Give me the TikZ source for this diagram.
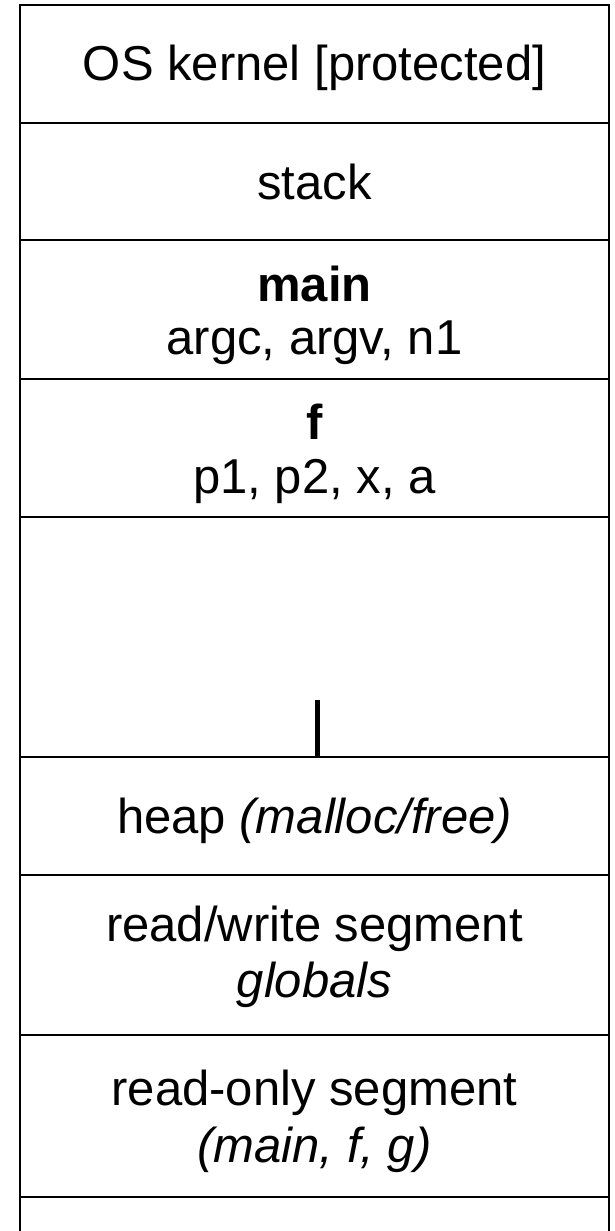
\documentclass[tikz,border=0pt]{standalone}
\usepackage{fontspec}
\setmainfont{Liberation Sans}
\begin{document}
\begin{tikzpicture}[x=1pt,y=-1pt,
  frame/.style={line width=2.2pt, black},
  lbl/.style={anchor=base, inner sep=0pt, font=\fontsize{49}{56}\selectfont},
  growtick/.style={line width=5pt, black}]
\useasboundingbox (0,0) rectangle (614,1231);
% outer frame (open at the bottom)
\draw[frame] (20,1231) -- (20,5) -- (609,5) -- (609,1231);
% segment separators
\foreach \y in {123,240,379,517,757,875,1035,1197}
  \draw[frame] (20,\y) -- (609,\y);
% growth tick above the heap
\coordinate (tickTop) at (317,700);
\coordinate (tickBot) at (317,757);
\draw[growtick] (tickTop) -- (tickBot);
% labels
\node[lbl] (kernel) at (314.5,81)  {OS kernel [protected]};
\node[lbl] (stack)  at (314.5,199) {stack};
\node[lbl] (mainT)  at (314.5,301) {\bfseries main};
\node[lbl] (mainV)  at (314.5,354) {argc, argv, n1};
\node[lbl] (fT)     at (314.5,439) {\bfseries f};
\node[lbl] (fV)     at (314.5,493) {p1, p2, x, a};
\node[lbl] (heap)   at (314.5,833) {heap \textit{(malloc/free)}};
\node[lbl] (rw)     at (314.5,941) {read/write segment};
\node[lbl] (rwG)    at (314.5,997) {\itshape globals};
\node[lbl] (ro)     at (314.5,1105) {read-only segment};
\node[lbl] (roF)    at (314.5,1162) {\itshape (main, f, g)};
\end{tikzpicture}
\end{document}
